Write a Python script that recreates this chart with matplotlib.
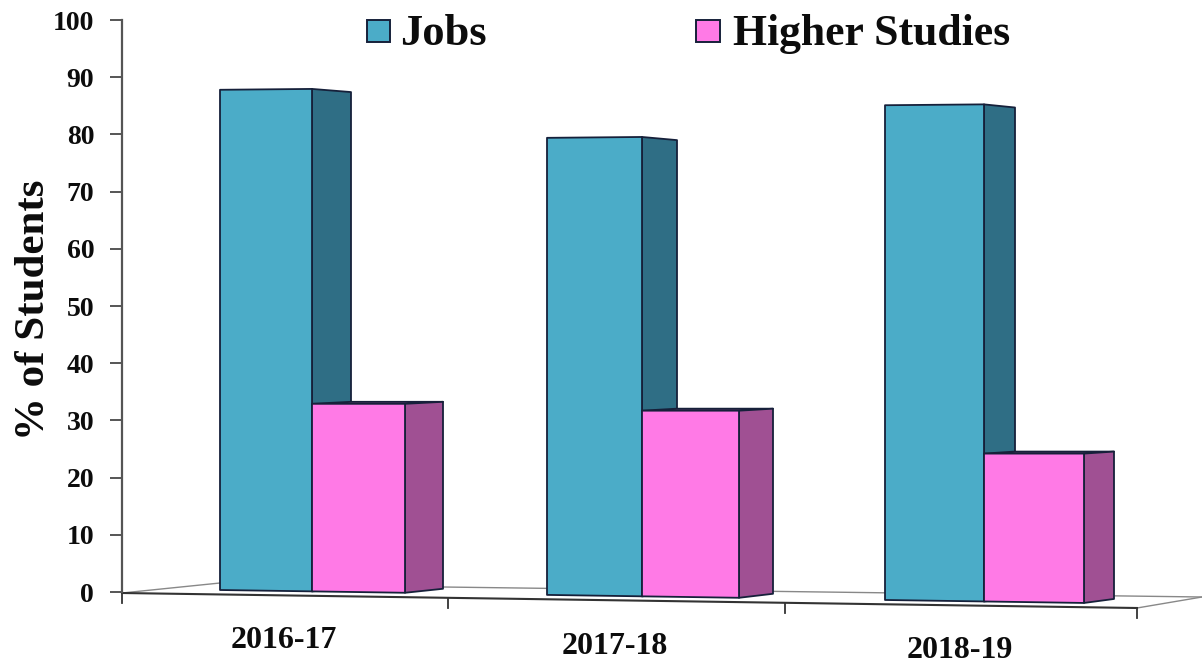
import matplotlib
matplotlib.use("Agg")
import matplotlib.pyplot as plt
from matplotlib.patches import Polygon, Rectangle

plt.rcParams["font.family"] = ["Liberation Serif", "DejaVu Serif"]
plt.rcParams["font.weight"] = "bold"

# values
years = ["2016-17", "2017-18", "2018-19"]
jobs = [87.8, 79.4, 85.1]
higher = [32.9, 31.7, 24.2]
y_ticks = list(range(0, 101, 10))

# ---- layout, in pixels of the 1202x664 picture ----
W, H = 1202, 664
AX_L, AX_R, AX_T, AX_B = 122, 1137, 20, 592
jobs_left = [220, 547, 885]
group_mid = [312, 642, 984]
higher_right = [405, 739, 1084]
jobs_depth = [39, 35, 31]
higher_depth = [38, 34, 30]
year_x = [284, 615, 960]
year_y = [640, 646, 651]
x_ticks_px = [122, 448, 785, 1137]

C_JOBS = "#4BACC8"
C_JOBS_SIDE = "#2F6E85"
C_HIGHER = "#FF7AE6"
C_HIGHER_SIDE = "#A05093"
C_EDGE = "#16203A"
C_AXIS = "#555555"
C_TEXT = "#0C0C0C"


def val(py):
    # picture pixel row -> value on the y axis
    return (AX_B - py) / (AX_B - AX_T) * 100


def base(px):
    # bars stand on a slightly tilted floor
    return val(590 + (px - 220) * 0.015)


fig = plt.figure(figsize=(W / 100, H / 100), dpi=100, facecolor="white")
ax = fig.add_axes([AX_L / W, 1 - AX_B / H, (AX_R - AX_L) / W, (AX_B - AX_T) / H])
ax.set_xlim(AX_L, AX_R)
ax.set_ylim(0, 100)
ax.set_facecolor("none")
for s in ["top", "right", "bottom"]:
    ax.spines[s].set_visible(False)
ax.spines["left"].set_color(C_AXIS)
ax.spines["left"].set_linewidth(1.6)
ax.set_xticks([])
ax.set_yticks(y_ticks)
ax.tick_params(axis="y", length=9, width=1.4, color=C_AXIS, pad=11, labelsize=20, labelcolor=C_TEXT)
ax.text(34, val(310), "% of Students", rotation=90, ha="center", va="center",
        fontsize=31, color=C_TEXT, clip_on=False)


def add_poly(points, color, z):
    ax.add_patch(Polygon(points, closed=True, facecolor=color, edgecolor=C_EDGE,
                         linewidth=1.3, joinstyle="round", clip_on=False, zorder=z))


# ---- floor ----
ax.plot([122, 220], [val(593), val(583)], color="#888888", lw=1, clip_on=False, zorder=1)
ax.plot([443, 1202], [val(587), val(597)], color="#888888", lw=1, clip_on=False, zorder=1)
ax.plot([1137, 1202], [val(608), val(597)], color="#888888", lw=1, clip_on=False, zorder=1)
ax.plot([122, 1137], [val(593), val(608)], color="#333333", lw=1.5, clip_on=False, zorder=1)
for px in x_ticks_px:
    fy = 593 + (px - 122) * 15 / 1015
    ax.plot([px, px], [val(fy), val(fy + 10)], color="#333333", lw=1.3, clip_on=False, zorder=1)

# ---- bars ----
for i in range(len(years)):
    l, m, r = jobs_left[i], group_mid[i], higher_right[i]
    jd, hd = jobs_depth[i], higher_depth[i]
    j, h = jobs[i], higher[i]

    add_poly([(m, j + 0.15), (m + jd, j - 0.4), (m + jd, base(m) + 0.6), (m, base(m))], C_JOBS_SIDE, 3)
    add_poly([(l, j), (m, j + 0.15), (m, base(m)), (l, base(l))], C_JOBS, 4)

    add_poly([(m, h), (r, h), (r + hd, h + 0.35), (m + jd, h + 0.35)], C_HIGHER_SIDE, 5)
    add_poly([(r, h), (r + hd, h + 0.35), (r + hd, base(r) + 0.7), (r, base(r))], C_HIGHER_SIDE, 5)
    add_poly([(m, h), (r, h), (r, base(r)), (m, base(m))], C_HIGHER, 6)

    ax.text(year_x[i], val(year_y[i]), years[i], ha="center", va="center",
            fontsize=23, color=C_TEXT, clip_on=False)

# ---- legend ----
ax.add_patch(Rectangle((367, val(42)), 23, val(20) - val(42), facecolor=C_JOBS,
                       edgecolor=C_EDGE, linewidth=1.4, clip_on=False, zorder=6))
ax.add_patch(Rectangle((696, val(42)), 24, val(20) - val(42), facecolor=C_HIGHER,
                       edgecolor=C_EDGE, linewidth=1.4, clip_on=False, zorder=6))
ax.text(400, val(45), "Jobs", ha="left", va="baseline", fontsize=32, color=C_TEXT, clip_on=False)
ax.text(733, val(45), "Higher Studies", ha="left", va="baseline", fontsize=31.5, color=C_TEXT, clip_on=False)

fig.savefig("out.png", dpi=100, facecolor="white")
plt.close(fig)
